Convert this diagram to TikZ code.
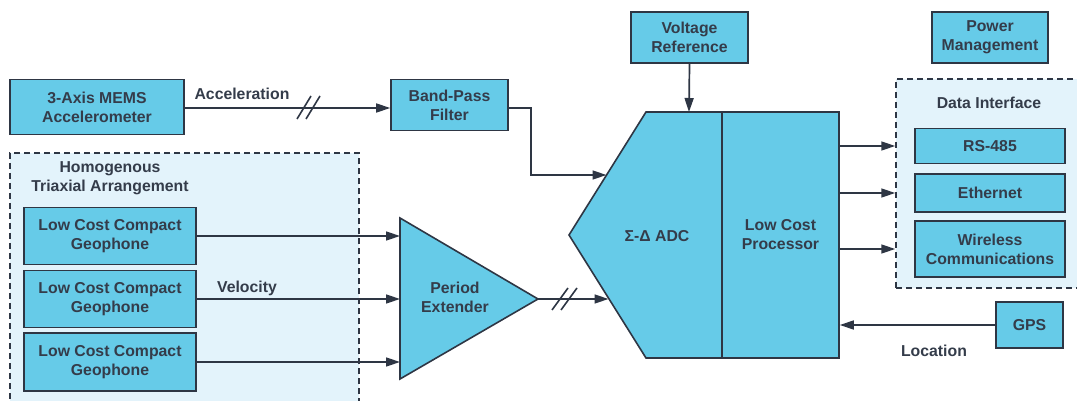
\documentclass[tikz,border=0pt]{standalone}
\usepackage{fontspec}
\setmainfont{Liberation Sans}
\usetikzlibrary{arrows.meta,calc}
\definecolor{boxblue}{HTML}{66CBE8}
\definecolor{grpfill}{HTML}{E3F3FB}
\definecolor{ink}{HTML}{2E3644}
\definecolor{txt}{HTML}{343C4A}
\tikzset{
 blk/.style={draw=ink, fill=boxblue, line width=1.6pt, text=txt, font=\fontsize{15.8}{19}\selectfont\bfseries, align=center, inner sep=0pt},
 grp/.style={draw=ink, fill=grpfill, line width=1.5pt, dash pattern=on 6pt off 4pt, inner sep=0pt},
 conn/.style={draw=ink, line width=1.7pt, -{Triangle[length=14pt,width=9pt]}},
 lbl/.style={text=txt, font=\fontsize{15.8}{19}\selectfont\bfseries, align=center, inner sep=0pt},
 slash/.style={draw=ink, line width=1.6pt},
 shp/.style={draw=ink, fill=boxblue, line width=1.6pt, line join=miter},
}
\begin{document}
\begin{tikzpicture}[x=1pt,y=-1pt]
\useasboundingbox (0,0) rectangle (1077,401);
\clip (0,0) rectangle (1077,401);

% group frames
\node[grp, minimum width=349pt, minimum height=262pt] (hom) at (184.5,284) {};
\node[lbl] (homlbl) at (110,178) {Homogenous\\Triaxial Arrangement};
\node[grp, minimum width=194pt, minimum height=209pt] (dint) at (993,183.5) {};
\node[lbl] (dintlbl) at (989,103) {Data Interface};

% boxes
\node[blk, minimum width=174pt, minimum height=55pt] (mems) at (97,107) {3-Axis MEMS\\Accelerometer};
\node[blk, minimum width=117pt, minimum height=51pt] (bpf) at (449.5,105) {Band-Pass\\Filter};
\node[blk, minimum width=117pt, minimum height=51pt] (vref) at (689.5,37.5) {Voltage\\Reference};
\node[blk, minimum width=116pt, minimum height=51pt] (pwr) at (990,37.5) {Power\\Management};
\node[blk, minimum width=150pt, minimum height=35pt] (rs) at (990,146) {RS-485};
\node[blk, minimum width=150pt, minimum height=38pt] (eth) at (990,193) {Ethernet};
\node[blk, minimum width=150pt, minimum height=56pt] (wls) at (990,249) {Wireless\\Communications};
\node[blk, minimum width=67pt, minimum height=46pt] (gps) at (1029.5,325) {GPS};
\node[blk, minimum width=172pt, minimum height=57pt] (geo1) at (110,236) {Low Cost Compact\\Geophone};
\node[blk, minimum width=172pt, minimum height=57pt] (geo2) at (110,299) {Low Cost Compact\\Geophone};
\node[blk, minimum width=172pt, minimum height=58pt] (geo3) at (110,362) {Low Cost Compact\\Geophone};

% ADC shape and processor
\draw[shp] (646,112) -- (722,112) -- (722,358) -- (646,358) -- (569,235) -- cycle;
\node[lbl] (adc) at (657,236) {Σ-Δ ADC};
\node[blk, minimum width=117pt, minimum height=246pt] (proc) at (780.5,235) {Low Cost\\Processor};
\coordinate (adcin1) at (606.5,175);
\coordinate (adcin2) at (608.5,299);
\coordinate (adctop) at (689,112);

% period extender
\draw[shp] (400,218) -- (538,299) -- (400,379) -- cycle;
\node[lbl] (pe) at (455,297.5) {Period\\Extender};
\coordinate (pein1) at (400,236);
\coordinate (pein2) at (400,299);
\coordinate (pein3) at (400,362);
\coordinate (peout) at (538,299);

% connectors
\draw[conn] ([yshift=-1pt]mems.east) -- ([yshift=-3pt]bpf.west);
\draw[conn] ([yshift=-3pt]bpf.east) -- ++(22,0) |- (adcin1);
\draw[conn] (vref.south) -- (adctop);
\draw[conn] (geo1.east) -- (pein1);
\draw[conn] (geo2.east) -- (pein2);
\draw[conn] (geo3.east) -- (pein3);
\draw[conn] (peout) -- (adcin2);
\draw[conn] (proc.east |- rs) -- (dint.west |- rs);
\draw[conn] (proc.east |- eth) -- (dint.west |- eth);
\draw[conn] (proc.east |- wls) -- (dint.west |- wls);
\draw[conn] (gps.west) -- (proc.east |- gps);

% bus slashes
\draw[slash] (297,119) -- (311,96);
\draw[slash] (306,119) -- (320,96);
\draw[slash] (552,310) -- (568,288);
\draw[slash] (561,310) -- (577,288);

% labels
\node[lbl] (acc) at (242,94) {Acceleration};
\node[lbl] (vel) at (247,288) {Velocity};
\node[lbl] (loc) at (934,351) {Location};
\end{tikzpicture}
\end{document}
